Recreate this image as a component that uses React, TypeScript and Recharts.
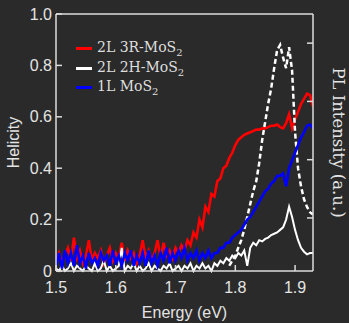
import React from 'react';
import { LineChart, Line, XAxis, YAxis, Legend } from 'recharts';

// photon energy grid (eV)
const energies = [
  1.5, 1.505, 1.51, 1.515, 1.52, 1.525, 1.53, 1.535, 1.54, 1.545,
  1.55, 1.555, 1.56, 1.565, 1.57, 1.575, 1.58, 1.585, 1.59, 1.595,
  1.6, 1.605, 1.61, 1.615, 1.62, 1.625, 1.63, 1.635, 1.64, 1.645,
  1.65, 1.655, 1.66, 1.665, 1.67, 1.675, 1.68, 1.685, 1.69, 1.695,
  1.7, 1.705, 1.71, 1.715, 1.72, 1.725, 1.73, 1.735, 1.74, 1.745,
  1.75, 1.755, 1.76, 1.765, 1.77, 1.775, 1.78, 1.785, 1.79, 1.795,
  1.8, 1.805, 1.81, 1.815, 1.82, 1.825, 1.83, 1.835, 1.84, 1.845,
  1.85, 1.855, 1.86, 1.865, 1.87, 1.875, 1.88, 1.885, 1.89, 1.895,
  1.9, 1.905, 1.91, 1.915, 1.92, 1.925, 1.93,
];

const helicity3R = [
  0.04, 0.07, 0.03, 0.06, 0.09, 0.04, 0.13, 0.05, 0.08, 0.03,
  0.06, 0.12, 0.04, 0.07, 0.05, 0.08, 0.03, 0.06, 0.09, 0.04,
  0.07, 0.05, 0.11, 0.04, 0.08, 0.05, 0.07, 0.03, 0.06, 0.12,
  0.05, 0.08, 0.04, 0.07, 0.12, 0.05, 0.11, 0.06, 0.08, 0.05,
  0.09, 0.07, 0.1, 0.08, 0.12, 0.1, 0.15, 0.13, 0.2, 0.17,
  0.25, 0.23, 0.3, 0.29, 0.35, 0.36, 0.4, 0.41, 0.44, 0.46,
  0.49, 0.51, 0.52, 0.53, 0.535, 0.54, 0.545, 0.55, 0.55, 0.555,
  0.555, 0.56, 0.565, 0.565, 0.57, 0.56, 0.555, 0.575, 0.61, 0.555,
  0.59, 0.62, 0.65, 0.67, 0.69, 0.685, 0.64,
];

const helicity1L = [
  0.02, 0.07, 0.01, 0.08, 0.03, 0.07, 0.02, 0.1, 0.03, 0.06,
  0.01, 0.07, 0.03, 0.05, 0.02, 0.07, 0.04, 0.06, 0.02, 0.08,
  0.03, 0.06, 0.02, 0.07, 0.04, 0.08, 0.02, 0.06, 0.03, 0.07,
  0.02, 0.08, 0.03, 0.06, 0.02, 0.07, 0.04, 0.09, 0.03, 0.07,
  0.04, 0.08, 0.05, 0.09, 0.04, 0.07, 0.05, 0.08, 0.04, 0.07,
  0.05, 0.08, 0.05, 0.07, 0.07, 0.09, 0.09, 0.11, 0.11, 0.13,
  0.14, 0.15, 0.16, 0.18, 0.2, 0.21, 0.23, 0.25, 0.27, 0.29,
  0.31, 0.32, 0.34, 0.35, 0.37, 0.37, 0.38, 0.33, 0.4, 0.43,
  0.46, 0.49, 0.52, 0.54, 0.565, 0.57, 0.555,
];

const helicity2H = [
  0.01, 0, 0.02, 0, 0.01, 0.03, 0, 0.02, 0.01, 0,
  0.02, 0.01, 0, 0.03, 0, 0.01, 0.04, 0, 0.02, 0,
  0.01, 0.02, 0.09, 0, 0.02, 0.01, 0.03, 0, 0.02, 0,
  0.01, 0.03, 0, 0.02, 0.01, 0, 0.02, 0.01, 0.03, 0,
  0.01, 0.02, 0, 0.02, 0.01, 0.03, 0, 0.02, 0.01, 0.03,
  0.01, 0.02, 0, 0.03, 0.02, 0.04, 0.03, 0.05, 0.04, 0.06,
  0.05, 0.07, 0.06, 0.08, 0.02, 0.09, 0.11, 0.1, 0.12, 0.115,
  0.125, 0.13, 0.14, 0.145, 0.15, 0.16, 0.17, 0.2, 0.25, 0.21,
  0.16, 0.12, 0.09, 0.075, 0.065, 0.07, 0.07,
];

// PL spectrum of 2L 2H-MoS2, right axis (a.u.)
const plEnergies = energies.slice(58);
const pl2H = [
  0.18, 0.27, 0.35, 0.49, 0.62, 0.8, 1.02, 1.24, 1.46, 1.63,
  1.94, 2.34, 2.65, 2.96, 3.22, 3.57, 3.88, 3.97, 3.75, 3.57,
  3.93, 3.53, 2.47, 1.85, 1.54, 1.32, 1.19, 1.1, 1.06,
];

const xTicks = [1.5, 1.6, 1.7, 1.8, 1.9];
const yTicks = [0, 0.2, 0.4, 0.6, 0.8, 1.0];
const plTicks = [1, 2, 3, 4];

const legendItems = [
  { name: '2L 3R-MoS', sub: '2', color: '#ff0000' },
  { name: '2L 2H-MoS', sub: '2', color: '#ffffff' },
  { name: '1L MoS', sub: '2', color: '#0000ff' },
];

const W = 349;
const H = 323;
// plot box: x 56..313, y 14..271
const LEFT_W = 56;
const RIGHT_W = 36;
const TOP_H = 14;
const BOTTOM_H = 52;
const plotW = W - LEFT_W - RIGHT_W;
const plotH = H - TOP_H - BOTTOM_H;
const midY = TOP_H + plotH / 2;

const sans = '"Liberation Sans", Arial, sans-serif';
const serif = '"DejaVu Serif", serif';
const ink = '#e4e4e4';
const axisColor = '#dcdcdc';

const toRows = (xs: number[], ys: number[]) => xs.map((e, i) => ({ e, v: ys[i] }));

function LegendBox() {
  return (
    <div style={{ fontFamily: serif, fontSize: 14, color: '#dedede' }}>
      {legendItems.map((item) => (
        <div key={item.name} style={{ display: 'flex', alignItems: 'center', height: 19.5, whiteSpace: 'nowrap' }}>
          <span style={{ display: 'inline-block', width: 16, height: 3, background: item.color, marginRight: 5 }} />
          <span>
            {item.name}
            <sub style={{ fontSize: 10 }}>{item.sub}</sub>
          </span>
        </div>
      ))}
    </div>
  );
}

export default function App() {
  const fmtY = (v: number) => (v === 0 ? '0' : v.toFixed(1));
  return (
    <div style={{ position: 'fixed', left: 0, top: 0, width: W, height: H, background: '#2a2a2a' }}>
      <LineChart width={W} height={H} margin={{ top: 0, right: 0, bottom: 0, left: 0 }}>
        <XAxis
          xAxisId="b"
          type="number"
          dataKey="e"
          domain={[1.5, 1.93]}
          ticks={xTicks}
          interval={0}
          allowDataOverflow
          height={BOTTOM_H}
          tickSize={-6}
          tickMargin={17}
          tickFormatter={(v: number) => v.toFixed(1)}
          stroke={axisColor}
          strokeWidth={1.5}
          tick={{ fill: ink, fontSize: 16, fontFamily: sans }}
          label={{
            content: () => (
              <text x={LEFT_W + plotW / 2} y={318} textAnchor="middle" fill={ink} fontSize={16} fontFamily={sans}>
                Energy (eV)
              </text>
            ),
          }}
        />
        <XAxis
          xAxisId="t"
          orientation="top"
          type="number"
          domain={[1.5, 1.93]}
          ticks={xTicks}
          interval={0}
          allowDataOverflow
          height={TOP_H}
          tickSize={-6}
          tickFormatter={() => ''}
          stroke={axisColor}
          strokeWidth={1.5}
        />
        <YAxis
          yAxisId="h"
          type="number"
          domain={[0, 1]}
          ticks={yTicks}
          interval={0}
          width={LEFT_W}
          tickSize={-6}
          tickMargin={10}
          tickFormatter={fmtY}
          stroke={axisColor}
          strokeWidth={1.5}
          tick={{ fill: ink, fontSize: 16, fontFamily: sans }}
          label={{
            content: () => (
              <text
                x={19}
                y={midY}
                transform={`rotate(-90 19 ${midY})`}
                textAnchor="middle"
                fill={ink}
                fontSize={16}
                fontFamily={sans}
              >
                Helicity
              </text>
            ),
          }}
        />
        <YAxis
          yAxisId="pl"
          orientation="right"
          type="number"
          domain={[0.09, 4.5]}
          ticks={plTicks}
          interval={0}
          allowDataOverflow
          width={RIGHT_W}
          tickSize={-6}
          tickFormatter={() => ''}
          stroke={axisColor}
          strokeWidth={1.5}
          label={{
            content: () => (
              <text
                x={333}
                y={midY}
                transform={`rotate(90 333 ${midY})`}
                textAnchor="middle"
                fill={ink}
                fontSize={16.5}
                fontFamily={serif}
              >
                PL Intensity (a.u.)
              </text>
            ),
          }}
        />
        <Legend
          layout="vertical"
          align="center"
          verticalAlign="middle"
          content={() => <LegendBox />}
          wrapperStyle={{ left: 76, top: 39, width: 'auto' }}
        />
        <Line
          xAxisId="b"
          yAxisId="h"
          data={toRows(energies, helicity3R)}
          dataKey="v"
          stroke="#ff0000"
          strokeWidth={2.6}
          dot={false}
          isAnimationActive={false}
          legendType="none"
        />
        <Line
          xAxisId="b"
          yAxisId="h"
          data={toRows(energies, helicity2H)}
          dataKey="v"
          stroke="#ffffff"
          strokeWidth={2}
          dot={false}
          isAnimationActive={false}
          legendType="none"
        />
        <Line
          xAxisId="b"
          yAxisId="pl"
          data={toRows(plEnergies, pl2H)}
          dataKey="v"
          stroke="#ffffff"
          strokeWidth={2.5}
          strokeDasharray="5 3"
          dot={false}
          isAnimationActive={false}
          legendType="none"
        />
        <Line
          xAxisId="b"
          yAxisId="h"
          data={toRows(energies, helicity1L)}
          dataKey="v"
          stroke="#0000ff"
          strokeWidth={2.6}
          dot={false}
          isAnimationActive={false}
          legendType="none"
        />
      </LineChart>
    </div>
  );
}
